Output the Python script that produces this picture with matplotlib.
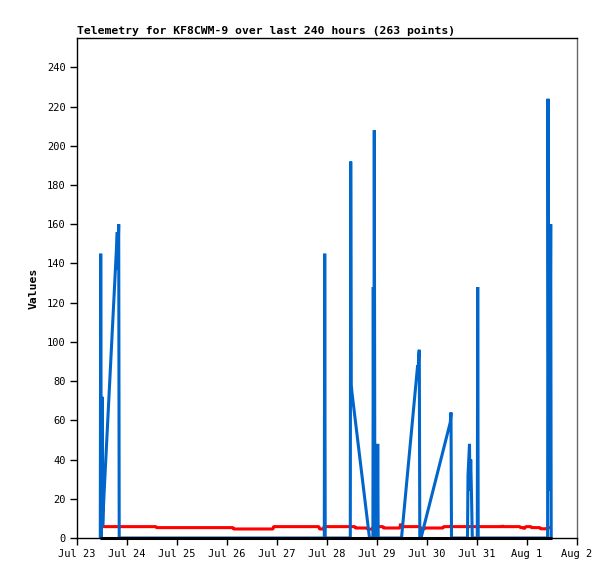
import matplotlib
matplotlib.use("Agg")
import matplotlib.pyplot as plt
import numpy as np
import pandas as pd

start = pd.Timestamp("2023-07-23 00:00")

title = "Telemetry for KF8CWM-9 over last 240 hours (263 points)"
ylabel = "Values"

# Blue series (hours since Jul 23 00:00, value)
blue_hours = [11.18, 11.38, 11.66, 12.0, 12.34, 12.62, 12.96, 19.34, 19.58, 20.02, 20.26,
              118.70, 118.90, 119.14,
              131.18, 131.38, 131.66, 132.0, 140.4,
              142.03, 142.22, 142.46, 142.70, 142.99,
              144.14, 144.34, 144.58,
              155.76, 163.50, 163.74, 163.98, 164.30, 164.54,
              165.12, 179.18, 179.52, 179.76,
              187.44, 187.68, 188.40, 188.64, 188.98, 189.36, 189.74,
              192.14, 192.34, 192.58,
              225.89, 226.08, 226.27, 226.46, 226.66, 226.85, 227.38, 227.62, 228.0]
blue_values = [0, 145, 0, 72, 6, 14, 22, 156, 137, 160, 0,
               0, 145, 0,
               0, 192, 78, 74, 0,
               0, 128, 0, 208, 0,
               0, 48, 0,
               0, 88, 82, 93, 96, 0,
               0, 59, 64, 0,
               0, 32, 48, 24, 40, 22, 0,
               0, 128, 0,
               0, 224, 121, 24, 121, 24, 160, 0, 0]

# Red series
red_hours = [12.48, 37.92, 38.16, 74.88, 75.12, 94.08, 94.32, 116.16, 116.4, 118.32, 118.56,
             133.44, 133.68, 138.72, 139.68, 141.6, 142.08, 143.52, 144.0, 144.48,
             146.88, 147.12, 155.04, 155.28, 155.76, 164.64, 165.12, 166.56, 167.04,
             175.68, 175.92, 179.52, 179.66, 179.9, 204.0, 204.14, 204.38,
             212.64, 212.88, 214.32, 214.56, 215.04, 215.52, 217.92, 218.16,
             222.24, 222.48, 225.6, 225.84, 228.0]
red_values = [5.8, 5.8, 5.3, 5.3, 4.6, 4.6, 5.8, 5.8, 4.6, 4.6, 5.8,
              5.8, 5.1, 5.1, 4.5, 4.5, 5.5, 4.6, 7.4, 5.8,
              5.8, 5.1, 5.1, 7.3, 5.8, 5.8, 4.6, 4.6, 5.1,
              5.1, 5.8, 5.8, 6.8, 5.8, 5.8, 6.5, 5.8,
              5.8, 5.3, 5.3, 4.6, 5.3, 5.8, 5.8, 5.3,
              5.3, 4.7, 4.7, 5.3, 5.3]

# Black series
black_hours = [11.28, 228.0]
black_values = [0, 0]

xtick_days = list(range(0, 11))
xtick_labels = ["Jul 23", "Jul 24", "Jul 25", "Jul 26", "Jul 27", "Jul 28",
                "Jul 29", "Jul 30", "Jul 31", "Aug 1", "Aug 2"]
yticks = list(range(0, 241, 20))


def to_dt(hours):
    return [start + pd.Timedelta(hours=h) for h in hours]


fig = plt.figure(figsize=(6.15, 5.79), dpi=100)
ax = fig.add_axes([77 / 615, 41 / 579, 500 / 615, 500 / 579])

style = dict(lw=2.2, solid_joinstyle="bevel", solid_capstyle="butt")
ax.plot(to_dt(red_hours), red_values, color="#ff0000", zorder=2, **style)
ax.plot(to_dt(blue_hours), blue_values, color="#0066cc", zorder=3, **style)
ax.plot(to_dt(black_hours), black_values, color="#000000", zorder=4, clip_on=False, **style)

ax.set_xlim(start, start + pd.Timedelta(days=10))
ax.set_ylim(0, 255)
ax.set_xticks([start + pd.Timedelta(days=d) for d in xtick_days])
ax.set_xticklabels(xtick_labels)
ax.set_yticks(yticks)
ax.set_yticklabels([str(v) for v in yticks])

mono = "DejaVu Sans Mono"
for lab in ax.get_xticklabels() + ax.get_yticklabels():
    lab.set_fontfamily(mono)
    lab.set_fontsize(7.5)
ax.tick_params(axis="both", direction="out", length=5, width=1, color="black", pad=3)

for s in ["left", "bottom", "top"]:
    ax.spines[s].set_color("black")
    ax.spines[s].set_linewidth(1)
ax.spines["right"].set_color("#666666")
ax.spines["right"].set_linewidth(1)

ax.set_ylabel(ylabel, fontfamily=mono, fontweight="bold", fontsize=8.2, labelpad=6)
ax.set_title(title, fontfamily=mono, fontweight="bold", fontsize=8.2, loc="left", pad=3)

fig.savefig("out.png", dpi=100)
